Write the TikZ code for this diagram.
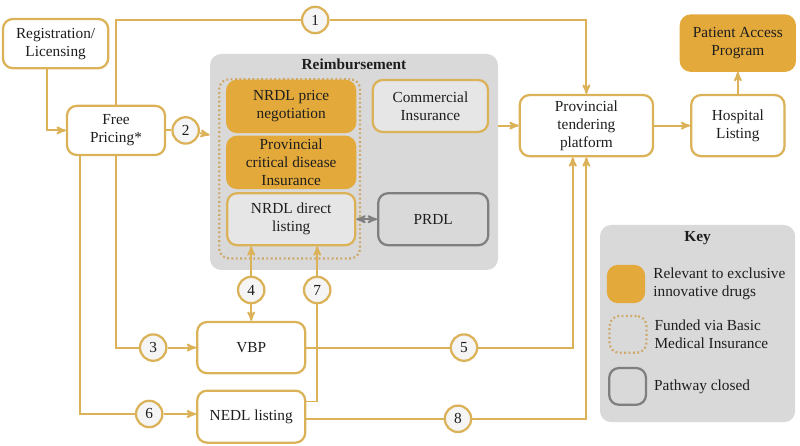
\documentclass[tikz,border=0pt]{standalone}
\usepackage{fontspec}
\setmainfont{Liberation Serif}
\usetikzlibrary{arrows,positioning}
\definecolor{gold}{HTML}{E3A93B}
\definecolor{goldline}{HTML}{DBB257}
\definecolor{dotline}{HTML}{CDA868}
\definecolor{shut}{HTML}{7F7F7F}
\definecolor{panel}{HTML}{D9D9D9}
\definecolor{inner}{HTML}{E6E6E6}
\definecolor{ink}{HTML}{1E1E1E}

\begin{document}
\begin{tikzpicture}[>=stealth',font=\fontsize{10.9}{12.8}\selectfont,text=ink,
	box/.style={draw=goldline,line width=1.6pt,rounded corners=7pt,fill=white,align=center,inner sep=1pt},
	goldbox/.style={box,fill=gold,draw=gold},
	greybox/.style={box,fill=inner},
	shutbox/.style={box,draw=shut,fill=panel},
	num/.style={circle,draw=goldline,line width=1.6pt,fill=gray!8,minimum size=0.66cm,inner sep=0pt},
	dotbox/.style={draw=dotline,line width=1.6pt,dash pattern=on 1.3pt off 1.8pt,rounded corners=7pt,fill=panel}]
	\useasboundingbox (0,0) rectangle (20,-11.15);
	\tikzset{flow/.style={draw=goldline,line width=1.3pt}}

	% reimbursement panel
	\node[fill=panel,rounded corners=8pt,minimum width=7.2cm,minimum height=5.4cm] (reimb) at (8.85,-4.05) {};
	\node[font=\fontsize{10.9}{12.8}\selectfont\bfseries,below=0pt of reimb.north] (rtitle) {Reimbursement};
	\node[dotbox,minimum width=3.52cm,minimum height=4.48cm] (bmi) at (7.24,-4.22) {};

	\node[box,minimum width=2.63cm,minimum height=1.23cm] (reg) at (1.39,-1.09) {Registration/\\Licensing};
	\node[box,minimum width=2.45cm,minimum height=1.23cm] (free) at (2.9,-3.26) {Free\\Pricing*};
	\node[goldbox,minimum width=3.2cm,minimum height=1.28cm] (neg) at (7.28,-2.66) {NRDL price\\negotiation};
	\node[goldbox,minimum width=3.2cm,minimum height=1.28cm,inner sep=0pt] (crit) at (7.28,-4.06) {Provincial\\critical disease\\Insurance};
	\node[greybox,minimum width=3.2cm,minimum height=1.3cm] (direct) at (7.28,-5.48) {NRDL direct\\listing};
	\node[greybox,minimum width=2.88cm,minimum height=1.3cm] (comm) at (10.76,-2.65) {Commercial\\Insurance};
	\node[shutbox,minimum width=2.75cm,minimum height=1.3cm] (prdl) at (10.83,-5.48) {PRDL};
	\node[box,minimum width=3.33cm,minimum height=1.53cm] (tender) at (14.66,-3.14) {Provincial\\tendering\\platform};
	\node[box,minimum width=2.33cm,minimum height=1.53cm] (hosp) [right=0.9cm of tender] {Hospital\\Listing};
	\node[goldbox,minimum width=2.85cm,minimum height=1.38cm] (pap) [above=0.55cm of hosp] {Patient Access\\Program};
	\node[box,minimum width=2.7cm,minimum height=1.28cm] (vbp) at (6.28,-8.69) {VBP};
	\node[box,minimum width=2.7cm,minimum height=1.3cm] (nedl) [below=0.38cm of vbp] {NEDL listing};

	% numbered pathways
	\node[num] (n1) at (7.88,-0.5) {1};
	\node[num] (n2) [right=0.13cm of free] {2};
	\node[num] (n3) at (3.83,-8.69) {3};
	\node[num] (n4) at (6.28,-7.25) {4};
	\node[num] (n5) at (11.6,-8.69) {5};
	\node[num] (n6) at (3.73,-10.35) {6};
	\node[num] (n7) at (7.93,-7.25) {7};
	\node[num] (n8) at (11.45,-10.47) {8};

	\draw[flow,->] ([xshift=-0.22cm]reg.south) |- (free);
	\draw[flow] (free) |- (n1);
	\draw[flow,->] (n1) -| (tender);
	\draw[flow] (free) -- (n2);
	\draw[flow,->] (n2) -- (reimb);
	\draw[flow] (free) |- (n3);
	\draw[flow,->] (n3) -- (vbp);
	\draw[flow] ([xshift=-0.9cm]free.south) |- (n6);
	\draw[flow,->] (n6) -- (n6 -| nedl.west);
	\draw[flow,->] (n4) -- (n4 |- direct.south);
	\draw[flow,->] (n4) -- (vbp);
	\draw[flow] ([yshift=0.38cm]nedl.east) -| (n7);
	\draw[flow,->] (n7) -- (n7 |- direct.south);
	\draw[flow] (vbp) -- (n5);
	\draw[flow,->] (n5) -| ([xshift=-0.34cm]tender.south);
	\draw[flow] (nedl.east |- n8) -- (n8);
	\draw[flow,->] (n8) -| (tender);
	\draw[flow,->] (reimb.east |- tender) -- (tender);
	\draw[flow,->] (tender) -- (hosp);
	\draw[flow,->] (hosp) -- (pap);
	\draw[draw=shut,line width=1.3pt,<->] (direct) -- (prdl);

	% key
	\node[fill=panel,rounded corners=8pt,minimum width=4.88cm,minimum height=4.93cm] (key) at (17.44,-8.09) {};
	\node[font=\fontsize{10.9}{12.8}\selectfont\bfseries,below=0.05cm of key.north] (ktitle) {Key};
	\node[goldbox,minimum size=0.9cm] (kgold) at (15.65,-7.1) {};
	\node[dotbox,minimum size=0.92cm] (kdot) at (15.7,-8.36) {};
	\node[shutbox,minimum size=0.92cm] (kshut) at (15.69,-9.66) {};
	\node[right=0.2cm of kgold,align=left,inner sep=0pt] (kgoldtxt) {Relevant to exclusive\\innovative drugs};
	\node[right=0.17cm of kdot,align=left,inner sep=0pt] (kdottxt) {Funded via Basic\\Medical Insurance};
	\node[right=0.17cm of kshut,align=left,inner sep=0pt] (kshuttxt) {Pathway closed};
\end{tikzpicture}
\end{document}
